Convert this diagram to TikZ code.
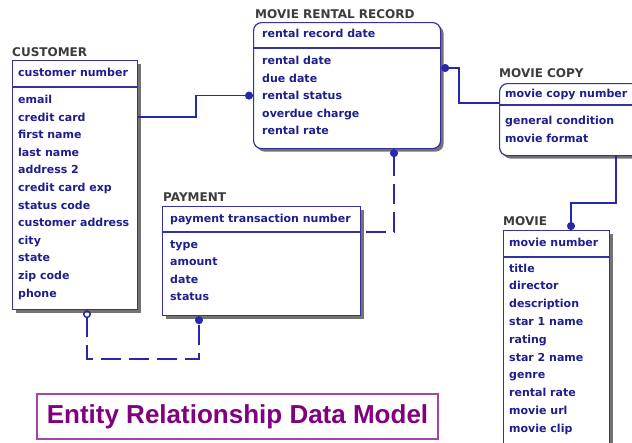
\documentclass[tikz,border=0pt]{standalone}
\usepackage{fontspec}
\newfontfamily\erfont{DejaVu Sans}
\newfontfamily\headfont{Liberation Sans}
\usepackage{xcolor}
\usetikzlibrary{arrows.meta, positioning, calc, shadows}

\definecolor{erline}{RGB}{50,50,160}
\definecolor{ertext}{RGB}{30,30,140}
\definecolor{ertitle}{RGB}{60,60,60}
\definecolor{relline}{RGB}{40,40,170}
\definecolor{modelpurple}{RGB}{128,0,128}
\definecolor{modelframe}{RGB}{165,70,165}

\begin{document}
\begin{tikzpicture}[x=1pt, y=-1pt,
    entity/.style={draw=erline, line width=1.2pt, fill=white, anchor=north west, inner sep=0pt,
        drop shadow={shadow xshift=3pt, shadow yshift=-3pt, fill=black!55, opacity=1}},
    divider/.style={draw=erline, line width=1.2pt},
    entname/.style={anchor=base west, inner sep=0pt, text=ertitle,
        font=\erfont\bfseries\fontsize{12}{14}\selectfont},
    attr/.style={anchor=base west, inner sep=0pt, text=ertext,
        font=\erfont\bfseries\fontsize{11}{13}\selectfont},
    rel/.style={draw=relline, line width=1.5pt},
    optional/.style={rel, dash pattern=on 20pt off 8pt},
    model/.style={draw=modelframe, line width=1.5pt, text=modelpurple,
        minimum width=401pt, minimum height=45pt,
        font=\headfont\bfseries\fontsize{26}{30}\selectfont}]
    \useasboundingbox (0,0) rectangle (632,442);
    \clip (0,0) rectangle (632,442);
    \fill[white] (0,0) rectangle (632,442);

    % customer
    \node[entname] (customer name) at (12,56) {CUSTOMER};
    \node[entity, minimum width=125pt, minimum height=249pt] (customer) at (12,60) {};
    \draw[divider] ([yshift=-27pt]customer.north west) -- ([yshift=-27pt]customer.north east);
    \node[attr] (customer key) at (18,76.5) {customer number};
    \foreach \attrname [count=\i from 0] in {email, credit card, first name, last name,
        address 2, credit card exp, status code, customer address, city, state,
        zip code, phone}
        \node[attr] (customer attr \i) at (18,{103.5+17.6*\i}) {\attrname};

    % movie rental record
    \node[entname] (rental name) at (255,18.5) {MOVIE RENTAL RECORD};
    \node[entity, rounded corners=8pt, minimum width=187pt, minimum height=126pt] (rental) at (253,22) {};
    \draw[divider] ([yshift=-26pt]rental.north west) -- ([yshift=-26pt]rental.north east);
    \node[attr] (rental key) at (262,37.5) {rental record date};
    \foreach \attrname [count=\i from 0] in {rental date, due date, rental status,
        overdue charge, rental rate}
        \node[attr] (rental attr \i) at (262,{64.5+17.6*\i}) {\attrname};

    % movie copy
    \node[entname] (moviecopy name) at (499,77) {MOVIE COPY};
    \node[entity, rounded corners=8pt, minimum width=160pt, minimum height=72pt] (moviecopy) at (499,83) {};
    \draw[divider] ([yshift=-22pt]moviecopy.north west) -- ([yshift=-22pt]moviecopy.north east);
    \node[attr] (moviecopy key) at (505,97.5) {movie copy number};
    \foreach \attrname [count=\i from 0] in {general condition, movie format}
        \node[attr] (moviecopy attr \i) at (505,{124.5+17.8*\i}) {\attrname};

    % payment
    \node[entname] (payment name) at (163,201) {PAYMENT};
    \node[entity, minimum width=198pt, minimum height=109pt] (payment) at (162,206) {};
    \draw[divider] ([yshift=-26pt]payment.north west) -- ([yshift=-26pt]payment.north east);
    \node[attr] (payment key) at (170,222.5) {payment transaction number};
    \foreach \attrname [count=\i from 0] in {type, amount, date, status}
        \node[attr] (payment attr \i) at (170,{248+17.6*\i}) {\attrname};

    % movie
    \node[entname] (movie name) at (503,225) {MOVIE};
    \node[entity, minimum width=106pt, minimum height=240pt] (movie) at (503,230) {};
    \draw[divider] ([yshift=-27pt]movie.north west) -- ([yshift=-27pt]movie.north east);
    \node[attr] (movie key) at (509,246.5) {movie number};
    \foreach \attrname [count=\i from 0] in {title, director, description, star 1 name,
        rating, star 2 name, genre, rental rate, movie url, movie clip}
        \node[attr] (movie attr \i) at (509,{272+17.8*\i}) {\attrname};

    % relationships
    \draw[rel, -{Circle[length=8pt]}] (customer attr 1 -| customer.east) -- ++(58,0)
        |- (rental attr 2 -| rental.west);
    \draw[rel, {Circle[length=8pt]}-] ([yshift=-46pt]rental.north east) -- ++(18,0)
        |- ([yshift=-20pt]moviecopy.north west);
    \draw[rel, -{Circle[length=8pt]}] ([xshift=117pt]moviecopy.south west) -- ++(0,47)
        -| ([xshift=68pt]movie.north west);
    \draw[optional, {Circle[length=8pt]}-] ([xshift=141pt]rental.south west)
        |- ([yshift=-26pt]payment.north east);
    \draw[optional, {Circle[open, length=8pt]}-{Circle[length=8pt]}] ([xshift=75pt]customer.south west)
        -- ++(0,49) -| ([xshift=37pt]payment.south west);

    % caption
    \node[model] (model title) at (237.5,416.5) {Entity Relationship Data Model};
\end{tikzpicture}
\end{document}
